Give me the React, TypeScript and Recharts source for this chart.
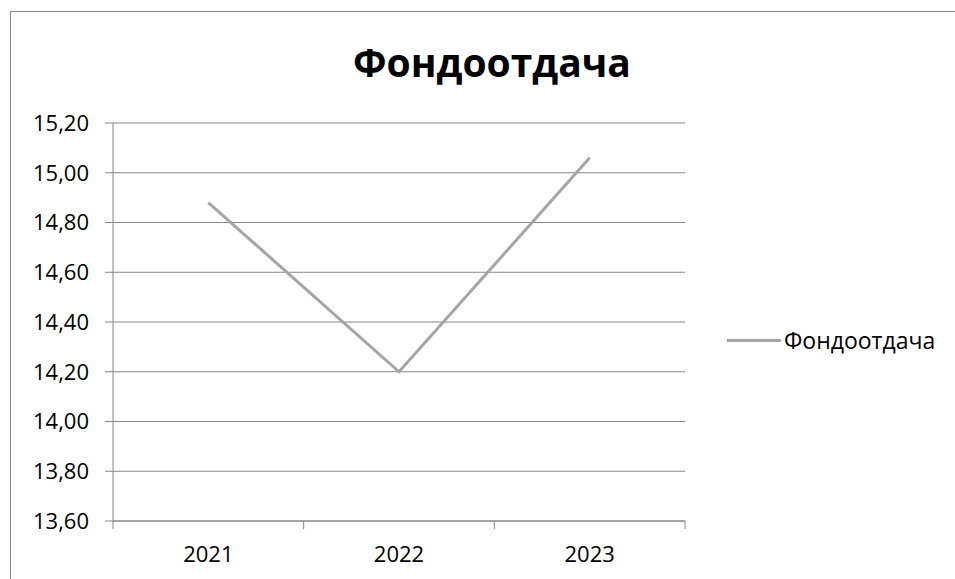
import { CartesianGrid, Legend, Line, LineChart, XAxis, YAxis } from "recharts";

const years = ["2021", "2022", "2023"];
const fondootdacha = [14.88, 14.2, 15.06];
const yTicks = [13.6, 13.8, 14.0, 14.2, 14.4, 14.6, 14.8, 15.0, 15.2];

const seriesName = "Фондоотдача";
const chartTitle = "Фондоотдача";

const data = years.map((year, i) => ({ year, value: fondootdacha[i] }));

const FONT = "'Open Sans', 'Noto Sans', sans-serif";
const AXIS = "#868686";
const LINE = "#A5A5A5";

const PLOT_LEFT = 113;
const PLOT_RIGHT = 685;
const BAND = (PLOT_RIGHT - PLOT_LEFT) / years.length;

function formatTick(v: number) {
  return v.toFixed(2).replace(".", ",");
}

function XTick(props: any) {
  const { x, y, payload, index } = props;
  const left = x - BAND / 2;
  return (
    <g>
      <line x1={left} y1={y - 8} x2={left} y2={y} stroke={AXIS} />
      {index === years.length - 1 && (
        <line x1={left + BAND} y1={y - 8} x2={left + BAND} y2={y} stroke={AXIS} />
      )}
      <text
        x={x}
        y={y + 33}
        textAnchor="middle"
        fontSize={22}
        fontFamily={FONT}
        fill="#000"
      >
        {payload.value}
      </text>
    </g>
  );
}

function LegendBox() {
  return (
    <div style={{ display: "flex", alignItems: "center", fontFamily: FONT, fontSize: 23 }}>
      <div style={{ width: 54, height: 3, background: LINE, marginRight: 3 }} />
      <span>{seriesName}</span>
    </div>
  );
}

export default function App() {
  return (
    <div style={{ position: "fixed", left: 0, top: 0, width: 955, height: 579, background: "#fff", overflow: "hidden" }}>
      <style>{"html, body { overflow: hidden; margin: 0; }"}</style>
      <div
        style={{
          position: "absolute",
          left: 10,
          top: 11,
          width: 944,
          height: 700,
          borderLeft: `1px solid ${AXIS}`,
          borderTop: `1px solid ${AXIS}`,
        }}
      />
      <div
        style={{
          position: "absolute",
          left: 0,
          width: 984,
          top: 35,
          textAlign: "center",
          fontFamily: FONT,
          fontWeight: 700,
          fontSize: 39,
        }}
      >
        {chartTitle}
      </div>
      <LineChart
        width={955}
        height={579}
        data={data}
        margin={{ top: 123, right: 50, bottom: 8, left: 13 }}
        style={{ position: "absolute", left: 0, top: 0 }}
      >
        <CartesianGrid vertical={false} stroke={AXIS} strokeWidth={1} />
        <XAxis
          dataKey="year"
          scale="band"
          stroke={AXIS}
          tickLine={false}
          tick={<XTick />}
          height={50}
          interval={0}
        />
        <YAxis
          domain={[13.6, 15.2]}
          ticks={yTicks}
          width={100}
          stroke={AXIS}
          tickSize={8}
          tickMargin={16}
          tickFormatter={formatTick}
          tick={{ fontSize: 22, fontFamily: FONT, fill: "#000" }}
          interval={0}
        />
        <Legend
          layout="vertical"
          align="right"
          verticalAlign="middle"
          content={<LegendBox />}
          wrapperStyle={{ left: 727, top: 324, width: 220 }}
        />
        <Line
          type="linear"
          dataKey="value"
          name={seriesName}
          stroke={LINE}
          strokeWidth={3}
          dot={false}
          activeDot={false}
          isAnimationActive={false}
        />
      </LineChart>
    </div>
  );
}
